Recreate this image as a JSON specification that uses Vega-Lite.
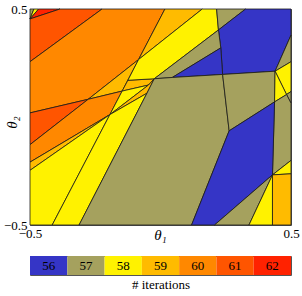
{
"$schema":"https://vega.github.io/schema/vega-lite/v6.json",
"padding":{"left":2,"top":2,"right":0,"bottom":0},
"bounds":"flush",
"spacing":31,
"config":{"font":"Liberation Serif","view":{"stroke":null}},
"vconcat":[
{
"width":261,"height":216,
"view":{"fill":"#a5a15e","stroke":"#555","strokeWidth":1},
"data":{"values":[
{"p":1,"o":0,"x":-0.5,"y":0.5,"c":57},{"p":1,"o":1,"x":-0.485,"y":0.5,"c":57},{"p":1,"o":2,"x":-0.5,"y":0.454,"c":57},
{"p":2,"o":0,"x":-0.5,"y":0.454,"c":58},{"p":2,"o":1,"x":-0.485,"y":0.5,"c":58},{"p":2,"o":2,"x":-0.467,"y":0.5,"c":58},
{"p":3,"o":0,"x":-0.5,"y":0.454,"c":62},{"p":3,"o":1,"x":-0.467,"y":0.5,"c":62},{"p":3,"o":2,"x":-0.385,"y":0.5,"c":62},
{"p":4,"o":0,"x":-0.5,"y":0.454,"c":61},{"p":4,"o":1,"x":-0.385,"y":0.5,"c":61},{"p":4,"o":2,"x":-0.224,"y":0.5,"c":61},{"p":4,"o":3,"x":-0.5,"y":0.256,"c":61},
{"p":5,"o":0,"x":-0.5,"y":0.256,"c":60},{"p":5,"o":1,"x":-0.224,"y":0.5,"c":60},{"p":5,"o":2,"x":0.017,"y":0.5,"c":60},{"p":5,"o":3,"x":-0.084,"y":0.266,"c":60},{"p":5,"o":4,"x":-0.277,"y":0.082,"c":60},{"p":5,"o":5,"x":-0.5,"y":0.019,"c":60},
{"p":6,"o":0,"x":0.017,"y":0.5,"c":59},{"p":6,"o":1,"x":0.16,"y":0.5,"c":59},{"p":6,"o":2,"x":-0.084,"y":0.266,"c":59},
{"p":7,"o":0,"x":-0.5,"y":0.019,"c":61},{"p":7,"o":1,"x":-0.277,"y":0.082,"c":61},{"p":7,"o":2,"x":-0.5,"y":-0.128,"c":61},
{"p":8,"o":0,"x":-0.277,"y":0.082,"c":59},{"p":8,"o":1,"x":-0.084,"y":0.266,"c":59},{"p":8,"o":2,"x":-0.147,"y":0.12,"c":59},
{"p":9,"o":0,"x":-0.5,"y":-0.128,"c":60},{"p":9,"o":1,"x":-0.277,"y":0.082,"c":60},{"p":9,"o":2,"x":-0.147,"y":0.12,"c":60},{"p":9,"o":3,"x":-0.194,"y":0.011,"c":60},{"p":9,"o":4,"x":-0.5,"y":-0.209,"c":60},
{"p":10,"o":0,"x":-0.5,"y":-0.209,"c":59},{"p":10,"o":1,"x":-0.194,"y":0.011,"c":59},{"p":10,"o":2,"x":-0.5,"y":-0.247,"c":59},
{"p":11,"o":0,"x":-0.5,"y":-0.247,"c":58},{"p":11,"o":1,"x":-0.194,"y":0.011,"c":58},{"p":11,"o":2,"x":-0.415,"y":-0.5,"c":58},{"p":11,"o":3,"x":-0.5,"y":-0.5,"c":58},
{"p":12,"o":0,"x":-0.125,"y":0.17,"c":59},{"p":12,"o":1,"x":-0.024,"y":0.177,"c":59},{"p":12,"o":2,"x":-0.046,"y":0.148,"c":59},{"p":12,"o":3,"x":-0.147,"y":0.12,"c":59},
{"p":13,"o":0,"x":-0.147,"y":0.12,"c":58},{"p":13,"o":1,"x":-0.046,"y":0.148,"c":58},{"p":13,"o":2,"x":-0.194,"y":0.011,"c":58},
{"p":14,"o":0,"x":-0.194,"y":0.011,"c":59},{"p":14,"o":1,"x":-0.046,"y":0.148,"c":59},{"p":14,"o":2,"x":-0.024,"y":0.177,"c":59},{"p":14,"o":3,"x":-0.052,"y":0.11,"c":59},
{"p":15,"o":0,"x":-0.194,"y":0.011,"c":58},{"p":15,"o":1,"x":-0.052,"y":0.11,"c":58},{"p":15,"o":2,"x":-0.312,"y":-0.5,"c":58},{"p":15,"o":3,"x":-0.415,"y":-0.5,"c":58},
{"p":16,"o":0,"x":0.16,"y":0.5,"c":58},{"p":16,"o":1,"x":0.215,"y":0.5,"c":58},{"p":16,"o":2,"x":0.222,"y":0.403,"c":58},{"p":16,"o":3,"x":-0.024,"y":0.177,"c":58},{"p":16,"o":4,"x":-0.125,"y":0.17,"c":58},{"p":16,"o":5,"x":-0.084,"y":0.266,"c":58},
{"p":17,"o":0,"x":0.215,"y":0.5,"c":57},{"p":17,"o":1,"x":0.326,"y":0.5,"c":57},{"p":17,"o":2,"x":0.222,"y":0.403,"c":57},
{"p":18,"o":0,"x":0.326,"y":0.5,"c":56},{"p":18,"o":1,"x":0.5,"y":0.5,"c":56},{"p":18,"o":2,"x":0.5,"y":0.379,"c":56},{"p":18,"o":3,"x":0.439,"y":0.212,"c":56},{"p":18,"o":4,"x":0.238,"y":0.197,"c":56},{"p":18,"o":5,"x":0.231,"y":0.32,"c":56},{"p":18,"o":6,"x":0.222,"y":0.403,"c":56},
{"p":19,"o":0,"x":-0.024,"y":0.177,"c":57},{"p":19,"o":1,"x":0.222,"y":0.403,"c":57},{"p":19,"o":2,"x":0.231,"y":0.32,"c":57},{"p":19,"o":3,"x":0.045,"y":0.183,"c":57},
{"p":20,"o":0,"x":0.045,"y":0.183,"c":56},{"p":20,"o":1,"x":0.231,"y":0.32,"c":56},{"p":20,"o":2,"x":0.238,"y":0.197,"c":56},
{"p":21,"o":0,"x":-0.024,"y":0.177,"c":57},{"p":21,"o":1,"x":0.045,"y":0.183,"c":57},{"p":21,"o":2,"x":0.238,"y":0.197,"c":57},{"p":21,"o":3,"x":0.263,"y":-0.064,"c":57},{"p":21,"o":4,"x":0.119,"y":-0.5,"c":57},{"p":21,"o":5,"x":-0.312,"y":-0.5,"c":57},{"p":21,"o":6,"x":-0.052,"y":0.11,"c":57},
{"p":22,"o":0,"x":0.238,"y":0.197,"c":57},{"p":22,"o":1,"x":0.439,"y":0.212,"c":57},{"p":22,"o":2,"x":0.437,"y":0.07,"c":57},{"p":22,"o":3,"x":0.263,"y":-0.064,"c":57},
{"p":23,"o":0,"x":0.5,"y":0.379,"c":57},{"p":23,"o":1,"x":0.5,"y":0.256,"c":57},{"p":23,"o":2,"x":0.439,"y":0.212,"c":57},
{"p":24,"o":0,"x":0.439,"y":0.212,"c":58},{"p":24,"o":1,"x":0.5,"y":0.256,"c":58},{"p":24,"o":2,"x":0.5,"y":0.118,"c":58},{"p":24,"o":3,"x":0.483,"y":0.104,"c":58},
{"p":25,"o":0,"x":0.439,"y":0.212,"c":58},{"p":25,"o":1,"x":0.483,"y":0.104,"c":58},{"p":25,"o":2,"x":0.437,"y":0.07,"c":58},
{"p":26,"o":0,"x":0.483,"y":0.104,"c":57},{"p":26,"o":1,"x":0.5,"y":0.118,"c":57},{"p":26,"o":2,"x":0.5,"y":0.064,"c":57},
{"p":27,"o":0,"x":0.437,"y":0.07,"c":57},{"p":27,"o":1,"x":0.483,"y":0.104,"c":57},{"p":27,"o":2,"x":0.5,"y":0.064,"c":57},{"p":27,"o":3,"x":0.5,"y":-0.201,"c":57},{"p":27,"o":4,"x":0.429,"y":-0.268,"c":57},
{"p":28,"o":0,"x":0.263,"y":-0.064,"c":56},{"p":28,"o":1,"x":0.437,"y":0.07,"c":56},{"p":28,"o":2,"x":0.429,"y":-0.268,"c":56},{"p":28,"o":3,"x":0.207,"y":-0.5,"c":56},{"p":28,"o":4,"x":0.119,"y":-0.5,"c":56},
{"p":29,"o":0,"x":0.429,"y":-0.268,"c":57},{"p":29,"o":1,"x":0.339,"y":-0.5,"c":57},{"p":29,"o":2,"x":0.207,"y":-0.5,"c":57},
{"p":30,"o":0,"x":0.429,"y":-0.268,"c":58},{"p":30,"o":1,"x":0.429,"y":-0.5,"c":58},{"p":30,"o":2,"x":0.339,"y":-0.5,"c":58},
{"p":31,"o":0,"x":0.429,"y":-0.268,"c":58},{"p":31,"o":1,"x":0.5,"y":-0.201,"c":58},{"p":31,"o":2,"x":0.5,"y":-0.263,"c":58},
{"p":32,"o":0,"x":0.429,"y":-0.268,"c":59},{"p":32,"o":1,"x":0.5,"y":-0.263,"c":59},{"p":32,"o":2,"x":0.5,"y":-0.5,"c":59},{"p":32,"o":3,"x":0.429,"y":-0.5,"c":59}
]},
"mark":{"type":"line","interpolate":"linear-closed","stroke":"#1a1a1a","strokeWidth":0.8,"strokeJoin":"round"},
"encoding":{
"x":{"field":"x","type":"quantitative","scale":{"domain":[-0.5,0.5],"nice":false,"zero":false},
"axis":{"values":[-0.5,0.5],"format":".1f","ticks":false,"domain":false,"grid":false,"labelFlush":false,"labelPadding":2,"labelFontSize":13,"labelColor":"#000","title":"θ₁","titleFontSize":15,"titleFontWeight":"normal","titleFontStyle":"italic","titleColor":"#000","titleX":130,"titleY":9,"titleBaseline":"middle","titleAlign":"center"}},
"y":{"field":"y","type":"quantitative","scale":{"domain":[-0.5,0.5],"nice":false,"zero":false},
"axis":{"values":[-0.5,0.5],"format":".1f","ticks":false,"domain":false,"grid":false,"labelPadding":3,"labelFontSize":13,"labelColor":"#000","title":"θ₂","titleFontSize":15,"titleFontWeight":"normal","titleFontStyle":"italic","titleColor":"#000","titleX":-18.5,"titleY":113,"titleBaseline":"middle","titleAlign":"center","titleAngle":270}},
"detail":{"field":"p","type":"nominal"},
"order":{"field":"o","type":"quantitative"},
"fill":{"field":"c","type":"ordinal","scale":{"domain":[56,57,58,59,60,61,62],"range":["#3535c6","#a5a15e","#fff200","#ffbb00","#ff8800","#ff5500","#ff2200"]},"legend":null}
}
},
{
"width":261,"height":19,
"view":{"stroke":"#555","strokeWidth":1},
"data":{"values":[{"c":56},{"c":57},{"c":58},{"c":59},{"c":60},{"c":61},{"c":62}]},
"encoding":{
"x":{"field":"c","type":"ordinal","scale":{"paddingInner":0,"paddingOuter":0},"axis":{"labels":false,"ticks":false,"domain":false,"title":"# iterations","titleFont":"Liberation Serif","titleFontSize":13,"titleFontWeight":"normal","titleColor":"#000","titlePadding":3}}
},
"layer":[
{"mark":{"type":"rect"},"encoding":{"color":{"field":"c","type":"ordinal","scale":{"domain":[56,57,58,59,60,61,62],"range":["#3535c6","#a5a15e","#fff200","#ffbb00","#ff8800","#ff5500","#ff2200"]},"legend":null}}},
{"mark":{"type":"text","font":"Liberation Serif","fontSize":13,"color":"#000"},"encoding":{"text":{"field":"c","type":"nominal"}}}
]
}
]
}
